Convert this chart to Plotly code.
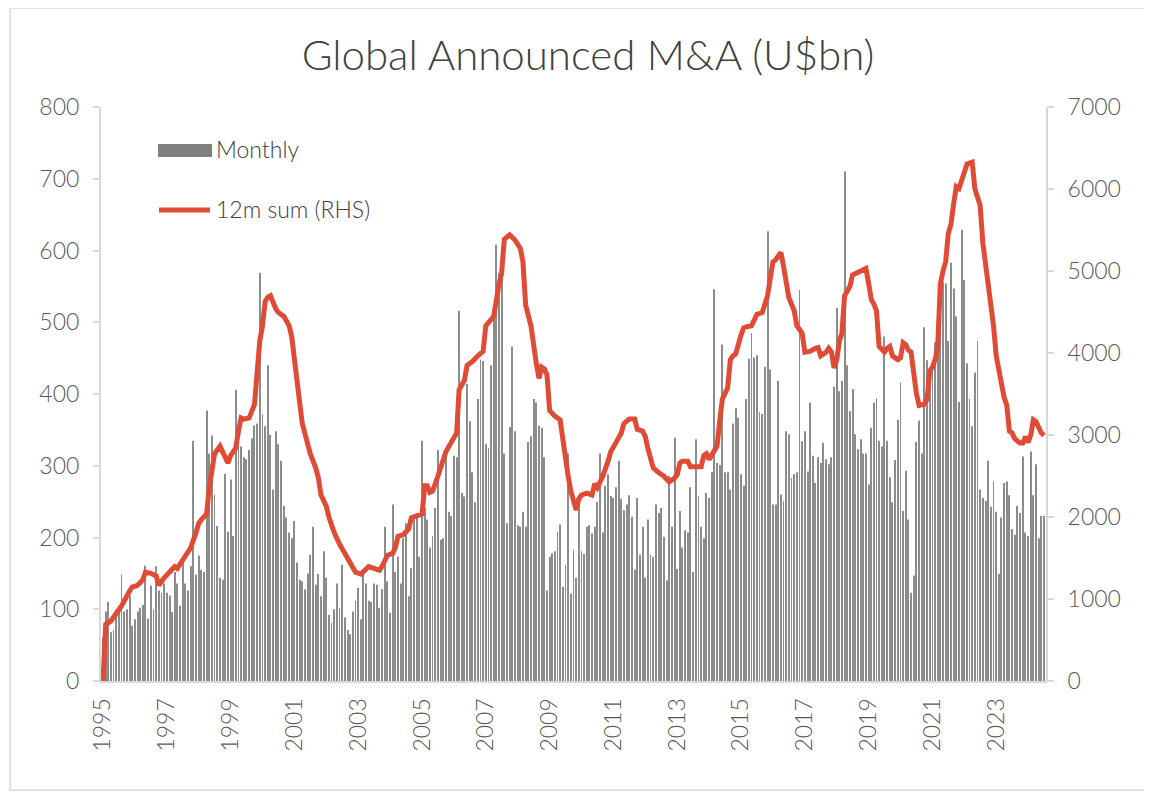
import pandas as pd
import plotly.graph_objects as go

# ---------------- data ----------------
monthly_1995_2001 = [
    60, 97, 110, 68, 71, 100, 105, 148, 97, 100, 119, 77,        # 1995
    86, 97, 102, 106, 161, 87, 133, 100, 160, 126, 123, 136,     # 1996
    123, 119, 96, 152, 136, 105, 165, 136, 126, 160, 335, 148,   # 1997
    175, 155, 152, 377, 317, 342, 260, 216, 144, 141, 289, 208,  # 1998
    281, 202, 406, 354, 327, 312, 309, 322, 338, 356, 359, 569,  # 1999
    372, 355, 440, 343, 267, 348, 330, 307, 244, 228, 207, 199,  # 2000
    223, 165, 141, 139, 128, 150, 176, 215, 134, 149, 118, 181,  # 2001
]
monthly_2002_2008 = [
    144, 92, 81, 100, 136, 102, 162, 89, 71, 65, 97, 112,        # 2002
    130, 86, 154, 136, 112, 110, 136, 134, 102, 128, 215, 139,   # 2003
    95, 246, 152, 173, 136, 199, 220, 118, 157, 228, 233, 173,   # 2004
    335, 241, 225, 186, 202, 241, 322, 197, 199, 317, 236, 230,  # 2005
    314, 312, 516, 262, 257, 414, 362, 291, 249, 393, 448, 446,  # 2006
    330, 325, 440, 506, 608, 569, 605, 317, 220, 354, 466, 348,  # 2007
    217, 215, 236, 215, 333, 341, 393, 388, 356, 353, 312, 126,  # 2008
]
monthly_2009_2016 = [
    173, 178, 181, 208, 218, 131, 162, 317, 122, 183, 144, 259,  # 2009
    181, 177, 215, 217, 206, 215, 250, 317, 207, 272, 288, 258,  # 2010
    255, 270, 307, 254, 238, 246, 259, 229, 155, 255, 176, 215,  # 2011
    144, 225, 176, 173, 246, 234, 241, 201, 140, 286, 215, 339,  # 2012
    156, 237, 186, 210, 207, 270, 152, 337, 258, 215, 199, 262,  # 2013
    255, 291, 546, 304, 301, 469, 291, 291, 267, 359, 380, 367,  # 2014
    288, 272, 393, 449, 485, 451, 454, 375, 372, 438, 627, 434,  # 2015
    246, 246, 418, 260, 251, 348, 344, 283, 288, 291, 545, 334,  # 2016
]
monthly_2017_2024 = [
    348, 292, 388, 314, 276, 312, 304, 332, 309, 302, 312, 410,  # 2017
    520, 404, 418, 710, 440, 376, 407, 344, 323, 337, 317, 317,  # 2018
    274, 353, 388, 394, 335, 327, 480, 335, 284, 249, 308, 364,  # 2019
    416, 237, 293, 225, 123, 147, 333, 363, 317, 493, 447, 409,  # 2020
    448, 472, 514, 524, 556, 554, 474, 583, 547, 508, 389, 629,  # 2021
    559, 443, 393, 355, 430, 474, 267, 255, 251, 307, 243, 278,  # 2022
    236, 149, 228, 276, 278, 259, 212, 204, 244, 234, 313, 207,  # 2023
    202, 320, 259, 302, 199, 230, 230,                           # 2024
]
monthly_values = monthly_1995_2001 + monthly_2002_2008 + monthly_2009_2016 + monthly_2017_2024
months = pd.date_range("1995-01-01", periods=len(monthly_values), freq="MS")

sum12_dates = [
    "1995-01", "1995-02", "1995-04", "1995-05", "1995-07", "1995-08", "1995-11", "1995-12",
    "1996-02", "1996-04", "1996-05", "1996-07", "1996-09", "1996-10", "1996-12",
    "1997-02", "1997-04", "1997-05", "1997-07", "1997-09", "1997-10", "1997-12",
    "1998-01", "1998-02", "1998-04", "1998-05", "1998-06", "1998-07", "1998-09", "1998-11", "1998-12",
    "1999-01", "1999-03", "1999-04", "1999-05", "1999-06", "1999-08", "1999-10", "1999-11", "1999-12",
    "2000-01", "2000-02", "2000-03", "2000-04", "2000-06", "2000-07", "2000-09", "2000-11", "2000-12",
    "2001-01", "2001-02", "2001-03", "2001-04", "2001-05", "2001-06", "2001-07", "2001-09", "2001-10", "2001-11",
    "2002-01", "2002-02", "2002-04", "2002-06", "2002-08", "2002-10", "2002-12",
    "2003-02", "2003-04", "2003-05", "2003-07", "2003-09", "2003-10", "2003-12",
    "2004-02", "2004-03", "2004-04", "2004-06", "2004-08", "2004-09", "2004-11",
    "2005-01", "2005-02", "2005-03", "2005-04", "2005-05", "2005-07", "2005-08", "2005-09", "2005-10", "2005-12",
    "2006-02", "2006-03", "2006-05", "2006-06", "2006-08", "2006-10", "2006-12",
    "2007-01", "2007-03", "2007-04", "2007-06", "2007-07", "2007-08", "2007-10", "2007-12",
    "2008-02", "2008-03", "2008-04", "2008-06", "2008-07", "2008-08", "2008-09", "2008-10", "2008-11", "2008-12",
    "2009-01", "2009-03", "2009-05", "2009-06", "2009-07", "2009-08", "2009-09", "2009-11", "2009-12",
    "2010-01", "2010-03", "2010-05", "2010-06", "2010-07", "2010-09", "2010-11", "2010-12",
    "2011-02", "2011-04", "2011-05", "2011-07", "2011-09", "2011-10", "2011-12",
    "2012-01", "2012-02", "2012-03", "2012-04", "2012-06", "2012-08", "2012-10", "2012-12",
    "2013-01", "2013-02", "2013-03", "2013-05", "2013-06", "2013-08", "2013-10", "2013-11", "2013-12",
    "2014-01", "2014-03", "2014-04", "2014-05", "2014-06", "2014-08", "2014-09", "2014-10", "2014-11",
    "2015-01", "2015-02", "2015-03", "2015-05", "2015-06", "2015-07", "2015-09", "2015-10", "2015-11",
    "2016-01", "2016-02", "2016-03", "2016-04", "2016-05", "2016-06", "2016-07", "2016-09", "2016-10", "2016-11", "2016-12",
    "2017-01", "2017-03", "2017-05", "2017-06", "2017-07", "2017-09", "2017-10", "2017-11", "2017-12",
    "2018-01", "2018-02", "2018-03", "2018-04", "2018-06", "2018-07", "2018-09", "2018-11", "2018-12",
    "2019-01", "2019-02", "2019-03", "2019-04", "2019-05", "2019-07", "2019-08", "2019-09", "2019-10", "2019-12",
    "2020-01", "2020-02", "2020-03", "2020-04", "2020-05", "2020-06", "2020-07", "2020-08", "2020-10", "2020-11", "2020-12",
    "2021-01", "2021-02", "2021-03", "2021-04", "2021-05", "2021-06", "2021-07", "2021-08", "2021-09", "2021-10", "2021-11",
    "2022-01", "2022-02", "2022-04", "2022-05", "2022-06", "2022-07", "2022-08", "2022-10", "2022-11", "2022-12",
    "2023-01", "2023-03", "2023-04", "2023-05", "2023-06", "2023-07", "2023-08", "2023-10", "2023-11", "2023-12",
    "2024-01", "2024-02", "2024-03", "2024-04", "2024-05", "2024-06", "2024-07",
]
sum12_values = [
    0, 690, 731, 777, 891, 914, 1098, 1144,
    1167, 1235, 1327, 1313, 1281, 1167, 1258,
    1327, 1396, 1373, 1465, 1557, 1625, 1809,
    1924, 1970, 2038, 2350, 2589, 2772, 2864, 2726, 2658,
    2749, 2841, 3048, 3208, 3194, 3208, 3369, 3736, 4149,
    4332, 4630, 4680, 4699, 4539, 4493, 4447, 4332, 4195,
    3873, 3650, 3400, 3139, 3025, 2933, 2772, 2600, 2480, 2268,
    2130, 1992, 1809, 1671, 1557, 1442, 1327,
    1304, 1373, 1396, 1373, 1350, 1396, 1534,
    1557, 1625, 1763, 1786, 1855, 1992, 2015,
    2038, 2380, 2380, 2300, 2314, 2497, 2612, 2681, 2795, 2910,
    3025, 3552, 3667, 3850, 3896, 3965, 4020,
    4332, 4401, 4447, 4837, 4975, 5387, 5442, 5378,
    5273, 5112, 4585, 4332, 4057, 3873, 3690, 3827, 3805, 3736,
    3300, 3231, 3185, 2910, 2726, 2497, 2314, 2084, 2222,
    2268, 2291, 2268, 2405, 2359, 2497, 2681, 2795,
    2910, 3025, 3139, 3194, 3194, 3070, 3048,
    2980, 2830, 2720, 2600, 2543, 2497, 2428, 2474,
    2520, 2658, 2681, 2681, 2612, 2612, 2612, 2749, 2772,
    2703, 2795, 2864, 3162, 3438, 3575, 3919, 3965, 3988,
    4218, 4309, 4318, 4332, 4400, 4470, 4493, 4585, 4699,
    5112, 5135, 5181, 5227, 5066, 4837, 4677, 4516, 4332, 4286, 4240,
    4011, 4020, 4057, 4066, 3965, 4011, 4057, 4011, 3818,
    3919, 4149, 4240, 4699, 4814, 4952, 4984, 5030, 5030,
    4850, 4650, 4600, 4516, 4080, 4011, 4057, 4080, 3965, 3919,
    3942, 4126, 4103, 4034, 4011, 3690, 3506, 3360, 3378, 3438, 3782,
    3828, 3919, 4057, 4837, 4997, 5112, 5456, 5571, 5823, 6030, 6007,
    6236, 6305, 6328, 6007, 5900, 5800, 5342, 4837, 4699, 4332,
    3965, 3598, 3460, 3369, 3048, 3025, 2956, 2901, 2901, 2979,
    2910, 3002, 3185, 3162, 3094, 3025, 2993,
]

tick_years = [str(y) for y in range(1995, 2024, 2)]
left_ticks = list(range(0, 801, 100))
right_ticks = list(range(0, 7001, 1000))

# ---------------- styling ----------------
FONT = "Lato"
AXIS_GREY = "#d9d9d9"
TEXT_GREY = "#595959"
BAR_GREY = "#8c8c8c"
RED = "#e04b36"

# the page adds an 8px body margin; target positions are page pixels
OFF = 8
W, H = 1152, 792
PL, PR, PT, PB = 101, 1046, 107, 681          # plot area on the page
L, T = PL - OFF, PT - OFF
R, B = W - (PR - OFF), H - (PB - OFF)
pw, ph = PR - PL, PB - PT

def px(xpage):
    return (xpage - PL) / pw

def py(ypage):
    return (PB - ypage) / ph

fig = go.Figure()
fig.add_trace(go.Bar(
    x=months, y=monthly_values, name="Monthly",
    marker=dict(color=BAR_GREY, line=dict(width=0)),
    showlegend=False,
))
fig.add_trace(go.Scatter(
    x=pd.to_datetime(sum12_dates), y=sum12_values, name="12m sum (RHS)",
    mode="lines", line=dict(color=RED, width=5),
    yaxis="y2", showlegend=False,
))

fig.update_layout(
    width=W, height=H,
    margin=dict(l=L, r=R, t=T, b=B),
    paper_bgcolor="white", plot_bgcolor="white",
    bargap=0.62,
    font=dict(family=FONT, color=TEXT_GREY, size=20),
    title=dict(text="Global Announced M&A (U$bn)", x=(588 - OFF) / W, xanchor="center",
               y=1 - (55 - OFF) / H, yanchor="middle",
               font=dict(family=FONT, size=42, color="#404040", weight=300)),
    xaxis=dict(
        type="date",
        range=["1994-12-09", "2024-07-24"],
        tickvals=[f"{y}-01-01" for y in tick_years],
        ticktext=tick_years,
        tickangle=-90,
        ticks="", showgrid=False, zeroline=False,
        showline=True, linecolor=AXIS_GREY, linewidth=2,
        tickfont=dict(size=23, color=TEXT_GREY, weight=300),
        ticklabelstandoff=6,
    ),
    yaxis=dict(
        range=[0, 800], tickvals=left_ticks,
        showgrid=False, zeroline=False,
        showline=True, linecolor=AXIS_GREY, linewidth=2,
        ticks="outside", ticklen=6, tickcolor=AXIS_GREY, tickwidth=2,
        tickfont=dict(size=23, color=TEXT_GREY, weight=300),
        ticklabelstandoff=9,
    ),
    yaxis2=dict(
        range=[0, 7000], tickvals=right_ticks,
        overlaying="y", side="right",
        showgrid=False, zeroline=False,
        showline=True, linecolor=AXIS_GREY, linewidth=2,
        ticks="outside", ticklen=6, tickcolor=AXIS_GREY, tickwidth=2,
        tickfont=dict(size=23, color=TEXT_GREY, weight=300),
        ticklabelstandoff=9,
    ),
    shapes=[
        # chart-area border
        dict(type="rect", xref="paper", yref="paper",
             x0=px(10), x1=px(1150), y0=py(790), y1=py(OFF),
             line=dict(color=AXIS_GREY, width=1.5), fillcolor="rgba(0,0,0,0)", layer="below"),
        # legend keys
        dict(type="rect", xref="paper", yref="paper",
             x0=px(158), x1=px(212), y0=py(157), y1=py(144),
             line=dict(width=0), fillcolor="#808080"),
        dict(type="line", xref="paper", yref="paper",
             x0=px(159), x1=px(210), y0=py(210), y1=py(210),
             line=dict(color=RED, width=5)),
    ],
    annotations=[
        dict(text="Monthly", xref="paper", yref="paper", x=px(214), y=py(149),
             xanchor="left", yanchor="middle", showarrow=False,
             font=dict(family=FONT, size=23, color="#404040", weight=300)),
        dict(text="12m sum (RHS)", xref="paper", yref="paper", x=px(214), y=py(209),
             xanchor="left", yanchor="middle", showarrow=False,
             font=dict(family=FONT, size=23, color="#404040", weight=300)),
    ],
)

fig.write_html("out.html")
